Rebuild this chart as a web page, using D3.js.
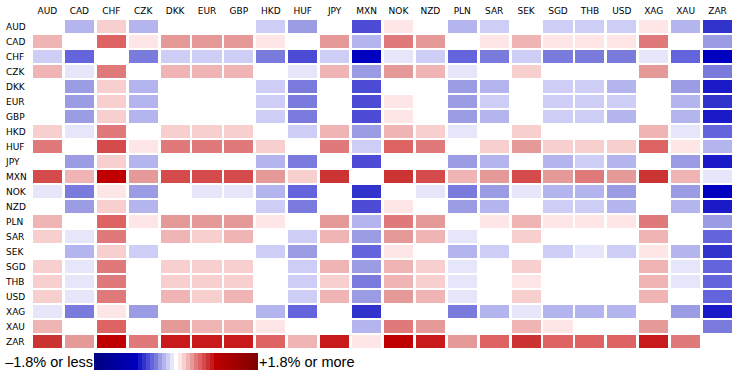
<!DOCTYPE html>
<html>
<head>
<meta charset="utf-8">
<script src="https://cdn.jsdelivr.net/npm/d3@7"></script>
<style>
  body { margin: 0; background: #fff; }
  svg { display: block; }
</style>
</head>
<body>
<svg id="chart"></svg>
<script>
// currencies, in row and column order
const currencies = ["AUD", "CAD", "CHF", "CZK", "DKK", "EUR", "GBP", "HKD", "HUF", "JPY", "MXN",
  "NOK", "NZD", "PLN", "SAR", "SEK", "SGD", "THB", "USD", "XAG", "XAU", "ZAR"];

// % change of row currency against column currency (null = same currency)
const changes = [
  [null, -0.54, 0.36, -0.54, 0, 0, 0, -0.36, -0.72, 0, -1.26, 0.18, 0, -0.54, -0.36, 0, -0.36, -0.36, -0.36, 0.18, -0.54, -1.44],
  [0.54, null, 1.08, 0.18, 0.72, 0.72, 0.72, 0.18, 0, 0.72, -0.54, 0.9, 0.72, 0, 0.18, 0.54, 0.18, 0.18, 0.18, 0.9, 0, -0.72],
  [-0.36, -1.08, null, -0.9, -0.36, -0.36, -0.36, -0.9, -1.26, -0.36, -1.8, -0.18, -0.36, -1.08, -0.9, -0.36, -0.9, -0.9, -0.9, -0.18, -1.08, -1.8],
  [0.54, -0.18, 0.9, null, 0.54, 0.54, 0.54, 0, -0.18, 0.54, -0.72, 0.72, 0.54, -0.18, 0, 0.36, 0, 0, 0, 0.72, 0, -0.9],
  [0, -0.72, 0.36, -0.54, null, 0, 0, -0.36, -0.9, 0, -1.26, 0, 0, -0.72, -0.54, 0, -0.36, -0.36, -0.54, 0, -0.72, -1.62],
  [0, -0.72, 0.36, -0.54, 0, null, 0, -0.36, -0.9, 0, -1.26, 0.18, 0, -0.72, -0.36, 0, -0.36, -0.36, -0.36, 0, -0.54, -1.44],
  [0, -0.72, 0.36, -0.54, 0, 0, null, -0.36, -0.9, 0, -1.26, 0.18, 0, -0.72, -0.54, 0, -0.36, -0.36, -0.54, 0, -0.54, -1.62],
  [0.36, -0.18, 0.9, 0, 0.36, 0.36, 0.36, null, -0.36, 0.54, -0.72, 0.54, 0.36, -0.18, 0, 0.36, 0, 0, 0, 0.54, -0.18, -1.08],
  [0.9, 0, 1.26, 0.18, 0.9, 0.9, 0.9, 0.36, null, 0.9, -0.36, 1.08, 0.9, 0, 0.36, 0.72, 0.36, 0.36, 0.36, 1.08, 0.18, -0.54],
  [0, -0.72, 0.36, -0.54, 0, 0, 0, -0.54, -0.9, null, -1.26, 0, 0, -0.72, -0.54, 0, -0.54, -0.36, -0.54, 0, -0.72, -1.62],
  [1.26, 0.54, 1.8, 0.72, 1.26, 1.26, 1.26, 0.72, 0.36, 1.44, null, 1.44, 1.26, 0.54, 0.72, 1.26, 0.72, 0.9, 0.72, 1.44, 0.54, -0.18],
  [-0.18, -0.9, 0.18, -0.72, 0, -0.18, -0.18, -0.54, -1.08, 0, -1.44, null, -0.18, -0.9, -0.72, -0.18, -0.54, -0.54, -0.72, 0, -0.72, -1.8],
  [0, -0.72, 0.36, -0.54, 0, 0, 0, -0.36, -0.9, 0, -1.26, 0.18, null, -0.72, -0.54, 0, -0.36, -0.36, -0.54, 0, -0.54, -1.62],
  [0.54, 0, 1.08, 0.18, 0.72, 0.72, 0.72, 0.18, 0, 0.72, -0.54, 0.9, 0.72, null, 0.18, 0.54, 0.18, 0.18, 0.18, 0.9, 0, -0.72],
  [0.36, -0.18, 0.9, 0, 0.54, 0.36, 0.54, 0, -0.36, 0.54, -0.72, 0.72, 0.54, -0.18, null, 0.36, 0, 0, 0, 0.54, 0, -1.08],
  [0, -0.54, 0.36, -0.36, 0, 0, 0, -0.36, -0.72, 0, -1.08, 0.18, 0, -0.54, -0.36, null, -0.36, -0.18, -0.36, 0.18, -0.54, -1.44],
  [0.36, -0.18, 0.9, 0, 0.36, 0.36, 0.36, 0, -0.36, 0.54, -0.72, 0.54, 0.36, -0.18, 0, 0.36, null, 0, 0, 0.54, -0.18, -1.08],
  [0.36, -0.18, 0.9, 0, 0.36, 0.36, 0.36, 0, -0.36, 0.36, -0.9, 0.54, 0.36, -0.18, 0, 0.18, 0, null, 0, 0.54, -0.18, -1.08],
  [0.36, -0.18, 0.9, 0, 0.54, 0.36, 0.54, 0, -0.36, 0.54, -0.72, 0.72, 0.54, -0.18, 0, 0.36, 0, 0, null, 0.54, 0, -1.08],
  [-0.18, -0.9, 0.18, -0.72, 0, 0, 0, -0.54, -1.08, 0, -1.44, 0, 0, -0.9, -0.54, -0.18, -0.54, -0.54, -0.54, null, -0.72, -1.62],
  [0.54, 0, 1.08, 0, 0.72, 0.54, 0.54, 0.18, 0, 0, -0.54, 0.9, 0.72, 0, 0, 0.54, 0.18, 0, 0, 0.72, null, -0.9],
  [1.44, 0.72, 1.8, 0.9, 1.62, 1.62, 1.62, 1.08, 0.54, 1.62, 0.18, 1.8, 1.62, 0.72, 1.08, 1.44, 1.08, 1.08, 1.08, 1.62, 0.9, null]
];

const legendLow = "\u20131.8% or less";
const legendHigh = "+1.8% or more";

// colour steps, palest first
const blues = ["#e6e6fa", "#cdcdf5", "#b4b4ee", "#9c9ce4", "#7b7bdd", "#6464dc", "#4b4bd6", "#3232cd", "#1a1ac8", "#0000c0"];
const reds = ["#ffe6e6", "#f7cfcf", "#f0b4b4", "#e69999", "#e07a7a", "#de6464", "#d54b4b", "#cc3333", "#c81a1a", "#c00000"];

const width = 750, height = 374;
const step = 0.18;

const svg = d3.select("#chart")
  .attr("width", width)
  .attr("height", height);

const x = d3.scaleBand()
  .domain(currencies)
  .range([31.5, 733.5])
  .paddingInner(0.09)
  .paddingOuter(0.045);

const y = d3.scaleBand()
  .domain(currencies)
  .range([19, 349])
  .paddingInner(0.1333)
  .paddingOuter(0.0667);

// thresholds half a step either side of each level
const thresholds = d3.range(-9.5, 10.5, 1).map(k => k * step);
const colour = d3.scaleThreshold()
  .domain(thresholds)
  .range(blues.slice().reverse().concat(["#ffffff"], reds));

const cells = [];
changes.forEach((row, i) => {
  row.forEach((v, j) => {
    if (v !== null) cells.push({ row: currencies[i], col: currencies[j], value: v });
  });
});

svg.append("g")
  .attr("shape-rendering", "crispEdges")
  .selectAll("rect")
  .data(cells)
  .join("rect")
  .attr("x", d => x(d.col))
  .attr("y", d => y(d.row))
  .attr("width", x.bandwidth())
  .attr("height", y.bandwidth())
  .attr("fill", d => colour(d.value));

// column headers
svg.append("g")
  .attr("font-family", "'DejaVu Sans', Verdana, sans-serif")
  .attr("font-size", 9)
  .attr("fill", "#000")
  .selectAll("text")
  .data(currencies)
  .join("text")
  .attr("x", d => x(d) + x.bandwidth() / 2)
  .attr("y", 14)
  .attr("text-anchor", "middle")
  .text(d => d);

// row labels
svg.append("g")
  .attr("font-family", "'DejaVu Sans', Verdana, sans-serif")
  .attr("font-size", 9)
  .attr("fill", "#000")
  .selectAll("text")
  .data(currencies)
  .join("text")
  .attr("x", 6)
  .attr("y", d => y(d) + y.bandwidth() / 2 + 3.3)
  .text(d => d);

// legend
const lx0 = 94, lx1 = 258, ly = 353, lh = 17, sw = 4;
const mid = (lx0 + lx1) / 2;
const defs = svg.append("defs");
const gradLow = defs.append("linearGradient").attr("id", "gradLow");
gradLow.append("stop").attr("offset", "0%").attr("stop-color", "#000080");
gradLow.append("stop").attr("offset", "100%").attr("stop-color", "#0000c0");
const gradHigh = defs.append("linearGradient").attr("id", "gradHigh");
gradHigh.append("stop").attr("offset", "0%").attr("stop-color", "#c00000");
gradHigh.append("stop").attr("offset", "100%").attr("stop-color", "#800000");

const legend = svg.append("g").attr("shape-rendering", "crispEdges");
const innerLeft = mid - sw / 2 - 9 * sw;
const innerRight = mid + sw / 2 + 9 * sw;
legend.append("rect")
  .attr("x", lx0).attr("y", ly).attr("width", innerLeft - lx0).attr("height", lh)
  .attr("fill", "url(#gradLow)");
legend.append("rect")
  .attr("x", innerRight).attr("y", ly).attr("width", lx1 - innerRight).attr("height", lh)
  .attr("fill", "url(#gradHigh)");
const stepsData = blues.slice(0, 9).reverse().concat(["#ffffff"], reds.slice(0, 9));
legend.selectAll("rect.step")
  .data(stepsData)
  .join("rect")
  .attr("class", "step")
  .attr("x", (d, i) => innerLeft + i * sw)
  .attr("y", ly)
  .attr("width", sw)
  .attr("height", lh)
  .attr("fill", d => d);

svg.append("text")
  .attr("x", lx0 - 1)
  .attr("y", 367)
  .attr("text-anchor", "end")
  .attr("font-family", "'Liberation Sans', Arial, sans-serif")
  .attr("font-size", 14.5)
  .text(legendLow);
svg.append("text")
  .attr("x", lx1 + 1)
  .attr("y", 367)
  .attr("font-family", "'Liberation Sans', Arial, sans-serif")
  .attr("font-size", 14.5)
  .text(legendHigh);
</script>
</body>
</html>
